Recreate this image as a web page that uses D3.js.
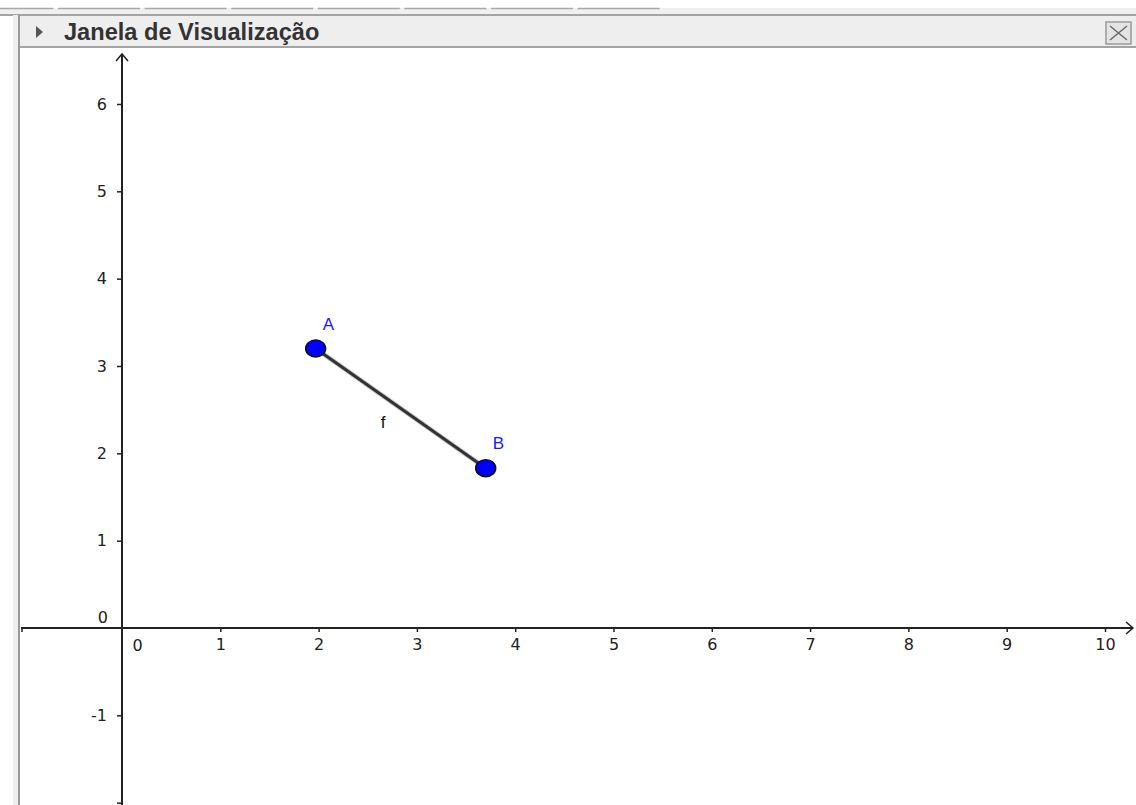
<!DOCTYPE html>
<html>
<head>
<meta charset="utf-8">
<script src="https://cdn.jsdelivr.net/npm/d3@7"></script>
<style>
  body { margin: 0; background: #fff; }
  svg { display: block; }
</style>
</head>
<body>
<div id="chart"></div>
<script>
// data
var xTicks = [0, 1, 2, 3, 4, 5, 6, 7, 8, 9, 10]
var yTicks = [-2, -1, 1, 2, 3, 4, 5, 6]
var pointNames = ["A", "B"]
var pointX = [1.97, 3.70]
var pointY = [3.20, 1.83]
var segmentName = "f"
var title = "Janela de Visualização"

var width = 1136,
    height = 805

var svg = d3.select("#chart")
    .append("svg")
    .attr("width", width)
    .attr("height", height)

// scales (x and y units differ on screen)
var x = d3.scaleLinear().domain([0, 10]).range([122, 1105])
var y = d3.scaleLinear().domain([0, 6]).range([628, 104])

// window chrome: toolbar strip + header
svg.append("rect").attr("x", 0).attr("y", 8).attr("width", width).attr("height", 8).attr("fill", "#f0f0f0")
var segs = d3.range(-1, 7)
svg.selectAll("toolbarSeg")
    .data(segs)
    .enter()
    .append("line")
    .attr("x1", function (d) { return 58 + d * 86.6 })
    .attr("x2", function (d) { return 58 + d * 86.6 + 82 })
    .attr("y1", 8.5).attr("y2", 8.5)
    .attr("stroke", "#a8a8a8")
    .attr("stroke-width", 1.5)

svg.append("rect").attr("x", 20).attr("y", 15).attr("width", width - 20).attr("height", 32).attr("fill", "#eeeeee")
svg.append("line").attr("x1", 0).attr("x2", width).attr("y1", 15).attr("y2", 15).attr("stroke", "#a4a4a4").attr("stroke-width", 2)
svg.append("line").attr("x1", 20).attr("x2", width).attr("y1", 47).attr("y2", 47).attr("stroke", "#a4a4a4").attr("stroke-width", 2)
// left border
svg.append("rect").attr("x", 13).attr("y", 15).attr("width", 5).attr("height", height).attr("fill", "#eeeeee")
svg.append("line").attr("x1", 19).attr("x2", 19).attr("y1", 15).attr("y2", height).attr("stroke", "#9a9a9a").attr("stroke-width", 2)

// header triangle and title
svg.append("path").attr("d", "M36,26 L43,32 L36,38 Z").attr("fill", "#555")
svg.append("text")
    .attr("x", 64).attr("y", 40)
    .text(title)
    .style("font-family", "Liberation Sans, Arial, sans-serif")
    .style("font-weight", "bold")
    .style("font-size", "23.6px")
    .style("fill", "#333")

// close button
svg.append("rect").attr("x", 1106).attr("y", 22).attr("width", 25).attr("height", 22)
    .attr("fill", "#e4e4e4").attr("stroke", "#9a9a9a").attr("stroke-width", 1.5)
svg.append("path").attr("d", "M1110,26 L1127,40 M1127,26 L1110,40")
    .attr("stroke", "#6a6a6a").attr("stroke-width", 1.5)

var plot = svg.append("g")

// axes lines with arrows
plot.append("line")
    .attr("x1", 21).attr("x2", 1133)
    .attr("y1", y(0)).attr("y2", y(0))
    .attr("stroke", "#222").attr("stroke-width", 2)
plot.append("path")
    .attr("d", "M1126," + (y(0) - 6) + " L1133," + y(0) + " L1126," + (y(0) + 6))
    .attr("fill", "none").attr("stroke", "#222").attr("stroke-width", 1.5)
plot.append("line")
    .attr("x1", 22).attr("x2", 22)
    .attr("y1", y(0)).attr("y2", y(0) + 4)
    .attr("stroke", "#222").attr("stroke-width", 1.5)

plot.append("line")
    .attr("x1", x(0)).attr("x2", x(0))
    .attr("y1", 54).attr("y2", height)
    .attr("stroke", "#222").attr("stroke-width", 2)
plot.append("path")
    .attr("d", "M" + (x(0) - 6) + ",61 L" + x(0) + ",54 L" + (x(0) + 6) + ",61")
    .attr("fill", "none").attr("stroke", "#222").attr("stroke-width", 1.5)

// ticks via d3 axes
var xAxis = plot.append("g")
    .attr("transform", "translate(0," + y(0) + ")")
    .call(d3.axisBottom(x).tickValues(xTicks.slice(1)).tickSize(4).tickPadding(7))
xAxis.select(".domain").remove()

// the -2 label falls below the window edge, only its tick shows
var yAxis = plot.append("g")
    .attr("transform", "translate(" + x(0) + ",0)")
    .call(d3.axisLeft(y).tickValues(yTicks).tickSize(5).tickPadding(10)
        .tickFormat(function (d) { return d <= -2 ? "" : (d < 0 ? "-" + Math.abs(d) : d) }))
yAxis.select(".domain").remove()

plot.selectAll(".tick line").attr("stroke", "#222").attr("stroke-width", 1.5)
plot.selectAll(".tick text")
    .style("font-family", "DejaVu Sans, sans-serif")
    .style("font-size", "16px")
    .style("fill", "#222")

// origin labels
plot.append("text")
    .attr("x", x(0) + 15.5).attr("y", y(0) + 23)
    .attr("text-anchor", "middle")
    .text(xTicks[0])
    .style("font-family", "DejaVu Sans, sans-serif").style("font-size", "16px").style("fill", "#222")
plot.append("text")
    .attr("x", x(0) - 14).attr("y", y(0) - 5)
    .attr("text-anchor", "end")
    .text(xTicks[0])
    .style("font-family", "DejaVu Sans, sans-serif").style("font-size", "16px").style("fill", "#222")

// segment f
plot.append("line")
    .attr("x1", x(pointX[0])).attr("y1", y(pointY[0]))
    .attr("x2", x(pointX[1])).attr("y2", y(pointY[1]))
    .attr("stroke", "#999").attr("stroke-width", 5).attr("stroke-opacity", 0.5)
plot.append("line")
    .attr("x1", x(pointX[0])).attr("y1", y(pointY[0]))
    .attr("x2", x(pointX[1])).attr("y2", y(pointY[1]))
    .attr("stroke", "#333").attr("stroke-width", 3)

plot.append("text")
    .attr("x", (x(pointX[0]) + x(pointX[1])) / 2 - 20)
    .attr("y", (y(pointY[0]) + y(pointY[1])) / 2 + 20)
    .text(segmentName)
    .style("font-family", "Liberation Sans, Arial, sans-serif").style("font-size", "17px").style("fill", "#111")

// points
var pts = pointNames.map(function (n, i) { return { name: n, x: pointX[i], y: pointY[i] } })

plot.selectAll("pointMark")
    .data(pts)
    .enter()
    .append("ellipse")
    .attr("cx", function (d) { return x(d.x) })
    .attr("cy", function (d) { return y(d.y) })
    .attr("rx", 10)
    .attr("ry", 8.5)
    .attr("fill", "#0000ff")
    .attr("stroke", "#111")
    .attr("stroke-width", 1.5)

plot.selectAll("pointLabel")
    .data(pts)
    .enter()
    .append("text")
    .attr("x", function (d) { return x(d.x) + 7 })
    .attr("y", function (d) { return y(d.y) - 19 })
    .text(function (d) { return d.name })
    .style("font-family", "Liberation Sans, Arial, sans-serif")
    .style("font-size", "17px")
    .style("fill", "#1a1aff")
</script>
</body>
</html>
